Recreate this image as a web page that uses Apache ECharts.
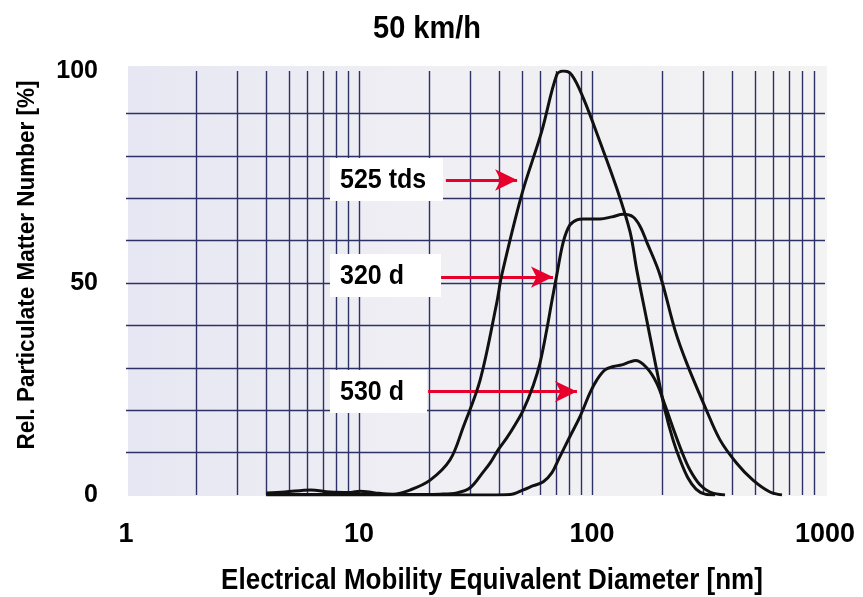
<!DOCTYPE html>
<html><head><meta charset="utf-8">
<script src="https://cdn.jsdelivr.net/npm/echarts@6/dist/echarts.min.js"></script>
<style>html,body{margin:0;padding:0;background:#fff}#c{width:863px;height:597px}</style>
</head><body><div id="c"></div>
<script>
const chartTitle = '50 km/h';
const xTitle = 'Electrical Mobility Equivalent Diameter [nm]';
const yTitle = 'Rel. Particulate Matter Number [%]';
const xTickValues = [1, 10, 100, 1000];
const yTickValues = [0, 50, 100];
const vGridValues = [2,3,4,5,6,7,8,9,10,20,30,40,50,60,70,80,90,100,200,300,400,500,600,700,800,900];
const hGridValues = [10,20,30,40,50,60,70,80,90];

const seriesNames = ['525 tds', '320 d', '530 d'];
const s525 = [[4.0,0.5],[4.8,0.7],[6.2,1.2],[7.5,0.7],[9.2,0.6],[10.1,0.9],[11.7,0.5],[14.0,0.2],[16.6,1.2],[20.2,3.5],[24.6,8.3],[28.0,16.0],[33.1,27.1],[39.0,45.3],[41.0,51.9],[49.9,70.8],[60.8,85.7],[70.6,99.1],[75.3,100],[81.8,99.1],[91.8,93.6],[108.2,83.3],[127.6,72.4],[145.6,62.1],[155.6,53.1],[171.7,41.3],[189.5,29.5],[205.7,20.0],[222.7,13.0],[238.6,8.3],[258.2,4.0],[279.5,1.4],[305.5,0.2],[337.2,0]];
const s320 = [[4.0,0.1],[15.0,0.1],[22.3,0.2],[26.3,0.5],[30.0,1.7],[34.1,5.4],[36.5,7.5],[39.5,10.6],[43.0,13.4],[46.7,16.5],[50.7,20.0],[56.0,25.9],[59.8,31.1],[63.9,38.9],[67.4,46.0],[70.6,51.9],[75.3,59.7],[80.4,63.7],[86.2,64.9],[91.8,65.1],[108.2,65.1],[121.8,65.6],[136.2,66.2],[150.0,65.6],[160.7,63.4],[171.7,59.7],[195.8,51.9],[227.1,38.9],[255.0,31.1],[305.5,20.8],[354.3,13.0],[417.8,7.5],[490.9,3.5],[580.6,0.7],[653.9,0]];
const s530 = [[4.0,0],[36.5,0],[44.5,0.1],[50.7,1.2],[56.0,2.2],[61.8,3.1],[67.2,5.2],[71.7,8.3],[80.4,13.8],[88.8,18.5],[98.0,24.1],[104.8,27.1],[113.7,29.5],[123.4,30.3],[134.1,30.7],[145.6,31.4],[154.5,31.7],[171.7,30.0],[189.5,26.4],[205.7,21.2],[222.7,15.8],[243.4,10.1],[263.4,5.9],[290.7,2.4],[320.9,0.7],[372.3,0]];
// arrows: x start, x tip, y (data units)
const arrowStart = [23.6, 22.5, 19.8];
const arrowTip = [47.7, 68.0, 86.2];
const arrowY = [74.3, 51.4, 24.4];

const FONT = "'Liberation Sans', Arial, Helvetica, sans-serif";
const chart = echarts.init(document.getElementById('c'), null, {renderer: 'canvas'});

const lineSeries = [s525, s320, s530].map((d, i) => ({
  name: seriesNames[i], type: 'line', data: d, smooth: 0.35, showSymbol: false, symbol: 'none',
  lineStyle: {color: '#111', width: 3}, z: 5, silent: true, animation: false
}));

const gridLineData = vGridValues.map(v => ({xAxis: v})).concat(hGridValues.map(v => ({yAxis: v})));
const arrowData = arrowStart.map((s, i) => [{coord: [s, arrowY[i]]}, {coord: [arrowTip[i], arrowY[i]]}]);

const boxes = [
  {x: 330, y: 158, w: 113, h: 43, t: seriesNames[0]},
  {x: 330, y: 254, w: 111, h: 43, t: seriesNames[1]},
  {x: 330, y: 370, w: 97, h: 43, t: seriesNames[2]}
];

const graphics = [
  {type: 'rect', z: -10, silent: true, shape: {x: 128, y: 66, width: 699, height: 430},
   style: {fill: new echarts.graphic.LinearGradient(0, 0, 1, 0, [{offset: 0, color: '#e7e7f3'}, {offset: 0.45, color: '#efeff4'}, {offset: 1, color: '#f3f3f3'}])}},
  {type: 'text', z: 20, x: 427, y: 29, scaleY: 1.1, style: {text: chartTitle, font: 'bold 29px ' + FONT, fill: '#000', align: 'center', verticalAlign: 'middle'}},
  {type: 'text', z: 20, x: 492, y: 581, scaleY: 1.1, style: {text: xTitle, font: 'bold 26px ' + FONT, fill: '#000', align: 'center', verticalAlign: 'middle'}},
  {type: 'text', z: 20, x: 27, y: 265, rotation: Math.PI / 2, scaleY: 1.1, style: {text: yTitle, font: 'bold 22.5px ' + FONT, fill: '#000', align: 'center', verticalAlign: 'middle'}}
];
boxes.forEach(b => {
  graphics.push({type: 'rect', z: 30, silent: true, shape: {x: b.x, y: b.y, width: b.w, height: b.h}, style: {fill: '#fff'}});
  graphics.push({type: 'text', z: 31, x: b.x + 10, y: b.y + b.h / 2 + 1, scaleY: 1.12, style: {text: b.t, font: 'bold 25px ' + FONT, fill: '#000', verticalAlign: 'middle'}});
});

chart.setOption({
  animation: false,
  backgroundColor: '#fff',
  grid: {left: 126, right: 38, top: 71, bottom: 102, containLabel: false},
  xAxis: {
    type: 'log', logBase: 10, min: xTickValues[0], max: xTickValues[xTickValues.length - 1],
    axisLine: {show: false}, axisTick: {show: false}, splitLine: {show: false}, minorTick: {show: false},
    axisLabel: {margin: 26, fontFamily: FONT, fontWeight: 'bold', fontSize: 27, color: '#000',
      formatter: v => xTickValues.includes(Math.round(v)) ? String(Math.round(v)) : ''}
  },
  yAxis: {
    type: 'value', min: yTickValues[0], max: yTickValues[yTickValues.length - 1], interval: 50,
    axisLine: {show: false}, axisTick: {show: false}, splitLine: {show: false},
    axisLabel: {margin: 28, fontFamily: FONT, fontWeight: 'bold', fontSize: 25, color: '#000'}
  },
  graphic: graphics,
  series: [
    {type: 'line', data: [], z: 1, silent: true, animation: false,
     markLine: {silent: true, symbol: 'none', animation: false, label: {show: false},
       lineStyle: {color: '#2e3166', width: 1.4, type: 'solid'}, emphasis: {disabled: true},
       data: gridLineData}},
    ...lineSeries,
    {type: 'line', data: [], z: 40, silent: true, animation: false,
     markLine: {silent: true, symbol: ['none', 'arrow'], symbolSize: [16, 22], animation: false, label: {show: false},
       lineStyle: {color: '#e8002d', width: 3, type: 'solid'}, emphasis: {disabled: true},
       data: arrowData}}
  ]
});
</script>
</body></html>
